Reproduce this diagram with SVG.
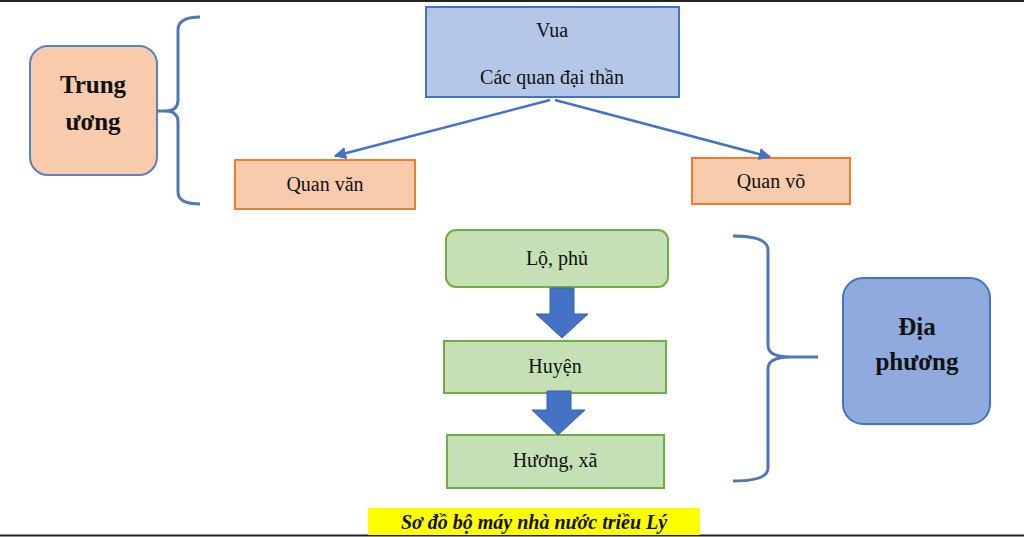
<svg xmlns="http://www.w3.org/2000/svg" width="1024" height="537" viewBox="0 0 1024 537">
<style>
text{font-family:"Liberation Serif","Times New Roman",serif;fill:#111;text-anchor:middle}
.t{font-size:20px}
.b{font-size:25px;font-weight:bold}
.or{fill:#f8cbad;stroke:#ed7d31;stroke-width:2}
.gr{fill:#c5e0b4;stroke:#70ad47;stroke-width:2}
.br{fill:none;stroke:#4f76b8;stroke-width:3}
.ln{stroke:#4472c4;stroke-width:2.5;fill:none;marker-end:url(#ah)}
.blk{fill:#4472c4;stroke:#3a62a8;stroke-width:1}
</style>
<defs><marker id="ah" viewBox="0 0 10 10" refX="9" refY="5" markerWidth="5" markerHeight="5" orient="auto"><path d="M0,0L10,5L0,10z" fill="#4472c4"/></marker></defs>
<rect width="1024" height="537" fill="#fff"/>
<line x1="0" y1="1" x2="1024" y2="1" stroke="#222" stroke-width="2"/>
<line x1="0" y1="535.5" x2="1024" y2="535.5" stroke="#222" stroke-width="2"/>
<g id="vua"><rect x="426" y="7" width="253" height="90" fill="#b4c7e7" stroke="#4472c4" stroke-width="2"/><text class="t" x="552" y="37">Vua</text><text class="t" x="552" y="84">Các quan đại thần</text></g>
<g id="trunguong"><rect x="30" y="46" width="127" height="129" rx="18" fill="#f8cbad" stroke="#5b7fbf" stroke-width="2"/><text class="b" x="93" y="93">Trung</text><text class="b" x="93" y="130">ương</text></g>
<g id="quanvan"><rect class="or" x="235" y="160" width="180" height="49"/><text class="t" x="325" y="191">Quan văn</text></g>
<g id="quanvo"><rect class="or" x="692" y="158" width="158" height="46"/><text class="t" x="771" y="188">Quan võ</text></g>
<g id="lophu"><rect class="gr" x="446" y="230" width="222" height="57" rx="10"/><text class="t" x="557" y="265">Lộ, phủ</text></g>
<g id="huyen"><rect class="gr" x="444" y="341" width="222" height="52"/><text class="t" x="555" y="373">Huyện</text></g>
<g id="huongxa"><rect class="gr" x="447" y="435" width="217" height="53"/><text class="t" x="555" y="467">Hương, xã</text></g>
<g id="diaphuong"><rect x="843" y="278" width="147" height="146" rx="20" fill="#8faadc" stroke="#4472c4" stroke-width="2"/><text class="b" x="917" y="335">Địa</text><text class="b" x="917" y="370">phương</text></g>
<g id="connectors">
<path class="br" d="M200,17 Q178,17 178,30 L178,100 Q178,111 165,111 L157,111 M165,111 Q178,111 178,122 L178,192 Q178,204 200,204"/>
<path class="br" d="M733,236 Q768,236 768,250 L768,345 Q768,357 790,357 L818,357 M790,357 Q768,357 768,369 L768,468 Q768,481 733,481"/>
<line class="ln" x1="550" y1="100" x2="335" y2="156"/>
<line class="ln" x1="555" y1="100" x2="770" y2="157"/>
<path class="blk" d="M550,288H574V314H588L562,338L536,314H550Z"/>
<path class="blk" d="M547,391H571V410H585L558,435L532,410H547Z"/>
</g>
<rect x="368" y="508" width="332" height="27" fill="#ffff00"/>
<text x="534" y="529" style="font-size:20px;font-weight:bold;font-style:italic">Sơ đồ bộ máy nhà nước triều Lý</text>
</svg>
